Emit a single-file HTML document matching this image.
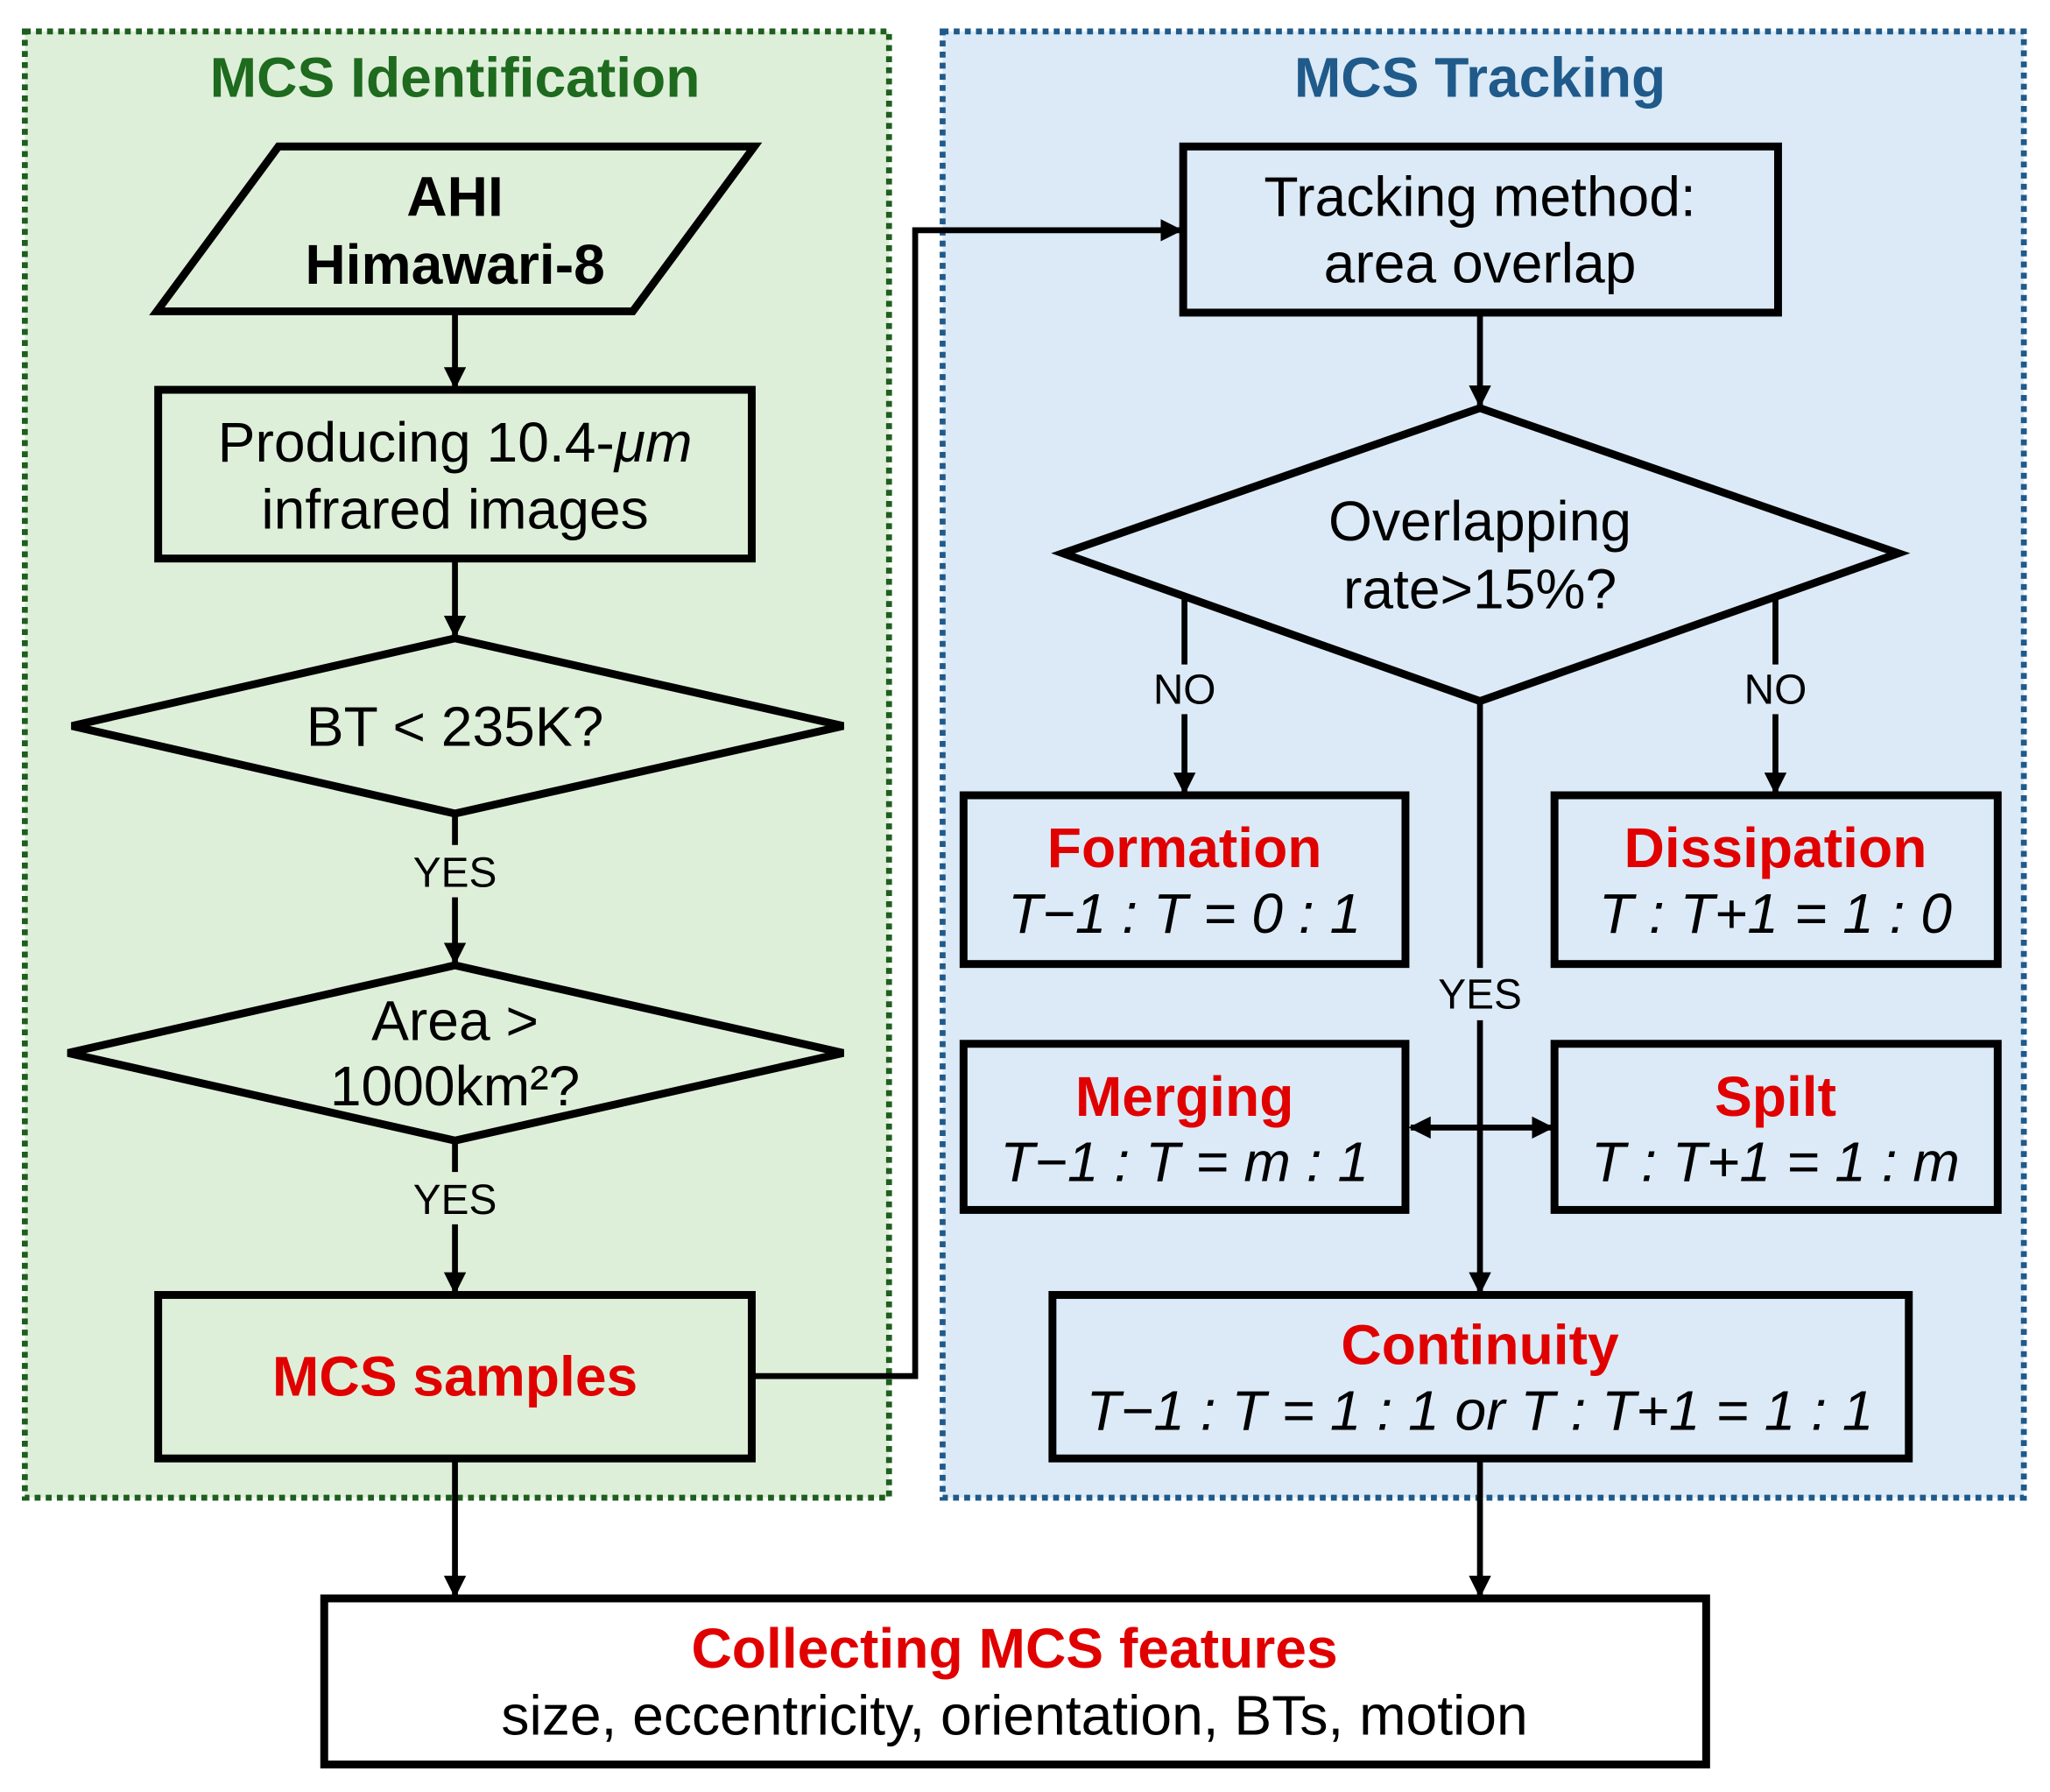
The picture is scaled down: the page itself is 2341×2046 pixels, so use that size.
<!DOCTYPE html>
<html><head><meta charset="utf-8"><style>html,body{margin:0;padding:0;background:#fff}svg{display:block}</style></head>
<body>
<svg width="2341" height="2046" viewBox="0 0 1568 1370" preserveAspectRatio="none" xmlns="http://www.w3.org/2000/svg" font-family="Liberation Sans, Arial, sans-serif">
<defs>
<marker id="b" viewBox="0 0 10 10" refX="9" refY="5" markerWidth="17" markerHeight="17" orient="auto" markerUnits="userSpaceOnUse"><path d="M0,0 L10,5 L0,10 z" fill="#000"/></marker>
<marker id="s" viewBox="0 0 10 10" refX="1" refY="5" markerWidth="17" markerHeight="17" orient="auto" markerUnits="userSpaceOnUse"><path d="M10,0 L0,5 L10,10 z" fill="#000"/></marker>
</defs>
<rect x="0" y="0" width="1568" height="1370" fill="#fff"/>
<rect x="19" y="24" width="661" height="1121" fill="#deefd9" stroke="#1e5e1e" stroke-width="4.5" stroke-dasharray="4.5 4"/>
<rect x="721" y="24" width="827" height="1121" fill="#dbeaf6" stroke="#1f5a8a" stroke-width="4.5" stroke-dasharray="4.5 4"/>
<g font-weight="bold" font-size="43" text-anchor="middle">
<text x="348" y="74" fill="#1e6a1e">MCS Identification</text>
<text x="1132" y="74" fill="#1f5a8a">MCS Tracking</text>
</g>
<g stroke="#000" stroke-width="6" fill="none">
<polygon points="120,238 213,112 577,112 484,238"/>
<rect x="121" y="298" width="454" height="129"/>
<polygon points="348,488 645,555 348,622 55,555"/>
<polygon points="348,738 645,805 348,872 52,805"/>
<rect x="121" y="990" width="454" height="125"/>
<rect x="905" y="112" width="455" height="127"/>
<polygon points="1132,312 1452,423 1132,536 813,423"/>
<rect x="737" y="608" width="338" height="129"/>
<rect x="1189" y="608" width="339" height="129"/>
<rect x="737" y="798" width="338" height="127"/>
<rect x="1189" y="798" width="339" height="127"/>
<rect x="805" y="990" width="655" height="125"/>
<rect x="248" y="1222" width="1057" height="127" fill="#fff"/>
</g>
<g stroke="#000" stroke-width="4.5" fill="none" marker-end="url(#b)">
<line x1="348" y1="240" x2="348" y2="296"/>
<line x1="348" y1="429" x2="348" y2="486"/>
<line x1="348" y1="624" x2="348" y2="736"/>
<line x1="348" y1="874" x2="348" y2="988"/>
<polyline points="577,1052 700,1052 700,176 903,176"/>
<line x1="1132" y1="241" x2="1132" y2="310"/>
<line x1="906" y1="457" x2="906" y2="606"/>
<line x1="1358" y1="457" x2="1358" y2="606"/>
<line x1="1132" y1="538" x2="1132" y2="988"/>
<line x1="348" y1="1117" x2="348" y2="1220"/>
<line x1="1132" y1="1117" x2="1132" y2="1220"/>
<line x1="1079" y1="862" x2="1187" y2="862" marker-start="url(#s)"/>
</g>
<g fill="#dbeaf6">
<rect x="876" y="508" width="60" height="38"/>
<rect x="1328" y="508" width="60" height="38"/>
<rect x="1094" y="740" width="76" height="40"/>
</g>
<g fill="#deefd9">
<rect x="308" y="646" width="80" height="40"/>
<rect x="308" y="896" width="80" height="40"/>
</g>
<g font-size="32" text-anchor="middle" fill="#000">
<text x="348" y="678">YES</text>
<text x="348" y="928">YES</text>
<text x="906" y="538">NO</text>
<text x="1358" y="538">NO</text>
<text x="1132" y="771">YES</text>
</g>
<g font-size="43" text-anchor="middle" fill="#000">
<text x="348" y="165" font-weight="bold">AHI</text>
<text x="348" y="217" font-weight="bold">Himawari-8</text>
<text x="348" y="353">Producing 10.4-<tspan font-style="italic">μm</tspan></text>
<text x="348" y="404">infrared images</text>
<text x="348" y="570">BT &lt; 235K?</text>
<text x="348" y="795">Area &gt;</text>
<text x="348" y="845">1000km²?</text>
<text x="348" y="1067" font-weight="bold" fill="#e00000">MCS samples</text>
<text x="1132" y="165">Tracking method:</text>
<text x="1132" y="216">area overlap</text>
<text x="1132" y="413">Overlapping</text>
<text x="1132" y="465">rate&gt;15%?</text>
<g font-weight="bold" fill="#e00000">
<text x="906" y="663">Formation</text>
<text x="1358" y="663">Dissipation</text>
<text x="906" y="853">Merging</text>
<text x="1358" y="853">Spilt</text>
<text x="1132" y="1043">Continuity</text>
<text x="776" y="1275">Collecting MCS features</text>
</g>
<g font-style="italic">
<text x="906" y="713">T−1 : T = 0 : 1</text>
<text x="1358" y="713">T : T+1 = 1 : 0</text>
<text x="906" y="903">T−1 : T = m : 1</text>
<text x="1358" y="903">T : T+1 = 1 : m</text>
<text x="1132" y="1093">T−1 : T = 1 : 1 or T : T+1 = 1 : 1</text>
</g>
<text x="776" y="1326">size, eccentricity, orientation, BTs, motion</text>
</g>
</svg>
</body></html>
